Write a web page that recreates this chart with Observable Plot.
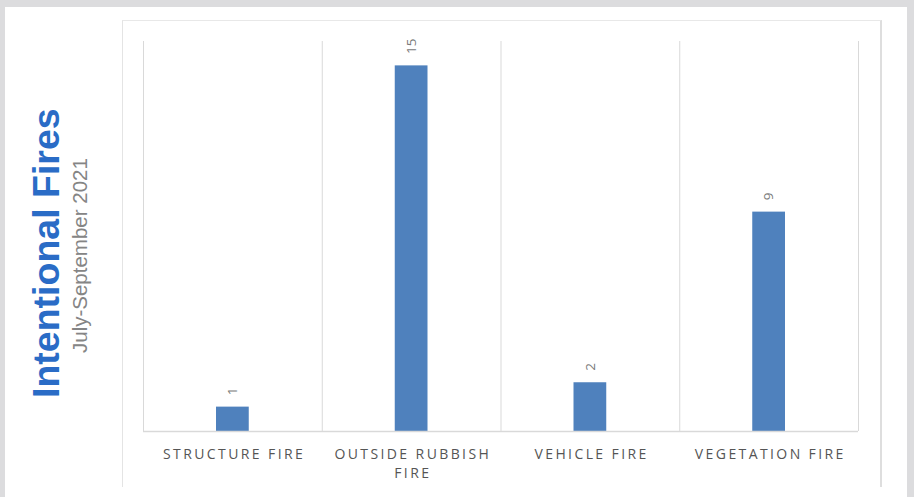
<!DOCTYPE html>
<html><head><meta charset="utf-8">
<script src="https://cdn.jsdelivr.net/npm/d3@7"></script>
<script src="https://cdn.jsdelivr.net/npm/@observablehq/plot@0.6"></script>
<style>
html,body{margin:0;padding:0}
body{width:914px;height:497px;background:#dcdcde;position:relative;overflow:hidden;font-family:"Liberation Sans",Arial,sans-serif}
#card{position:absolute;left:5px;top:7px;width:902px;height:490px;background:#fff}
#frame{position:absolute;left:122px;top:20px;width:760px;height:467px;border-left:1px solid #e4e4e4;border-top:1px solid #e8e8e8;border-right:2px solid #dedede;box-sizing:border-box}
.rot{position:absolute;transform-origin:0 0;transform:rotate(-90deg);white-space:nowrap;line-height:1}
#title{left:27.5px;top:398px;font-size:37.5px;font-weight:bold;color:#2a6cc6}
#subtitle{left:69.5px;top:353px;font-size:20.5px;color:#858585}
#chart{position:absolute;left:0;top:0}
</style></head>
<body>
<div id="card"></div>
<div id="frame"></div>
<div id="title" class="rot">Intentional Fires</div>
<div id="subtitle" class="rot">July-September 2021</div>
<div id="chart"></div>
<script>
const categories = ["Structure Fire", "Outside Rubbish Fire", "Vehicle Fire", "Vegetation Fire"];
const values = [1, 15, 2, 9];
const tickLabels = ["STRUCTURE FIRE", "OUTSIDE RUBBISH\nFIRE", "VEHICLE FIRE", "VEGETATION FIRE"];

const data = categories.map((c, i) => ({category: c, value: values[i]}));
const labelOf = new Map(categories.map((c, i) => [c, tickLabels[i]]));

const W = 914, H = 497;
const mL = 143, mR = W - 858, mT = 41, mB = H - 431;
const bw = (W - mL - mR) / categories.length;

const plot = Plot.plot({
  width: W, height: H,
  marginLeft: mL, marginRight: mR, marginTop: mT, marginBottom: mB,
  style: {background: "transparent", fontFamily: "'Open Sans', sans-serif", overflow: "visible"},
  x: {type: "band", domain: categories, padding: 0, round: false, axis: null},
  y: {domain: [0, 16], axis: null},
  marks: [
    Plot.ruleX(categories, {x: d => d, dx: -bw / 2, y1: 0, y2: 16, stroke: "#d9d9d9", strokeWidth: 1}),
    Plot.ruleX([categories[categories.length - 1]], {x: d => d, dx: bw / 2, y1: 0, y2: 16, stroke: "#d9d9d9", strokeWidth: 1}),
    Plot.barY(data, {x: "category", y: "value", fill: "#4f81bd", insetLeft: 73, insetRight: 73}),
    Plot.ruleY([0], {stroke: "#d9d9d9", strokeWidth: 1.5}),
    Plot.text(data, {x: "category", y: "value", text: d => String(d.value), rotate: -90, textAnchor: "start", lineAnchor: "middle", dy: -12, fill: "#7a7a7a", fontSize: 13.5}),
    Plot.axisX({tickSize: 0, tickPadding: 15, label: null, tickFormat: d => labelOf.get(d), fontSize: 14, lineHeight: 1.3, fill: "#555555", dx: 1.2})
  ]
});
plot.querySelectorAll('g[aria-label="x-axis tick label"] text').forEach(t => { t.style.letterSpacing = "2.4px"; });
document.getElementById("chart").appendChild(plot);
</script>
</body></html>
